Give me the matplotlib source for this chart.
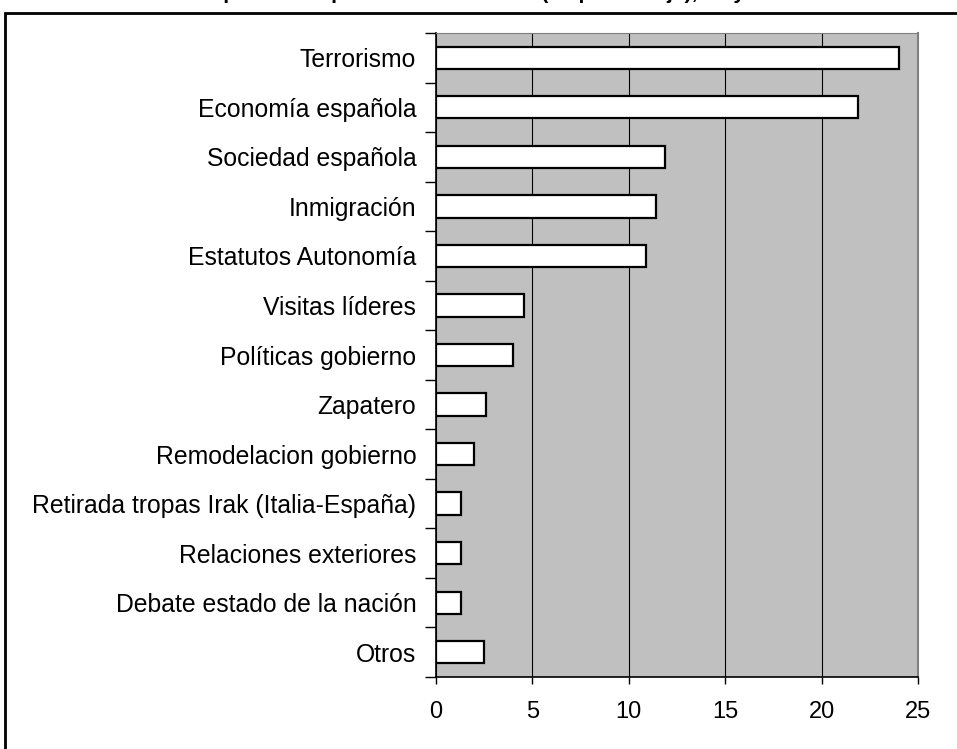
import matplotlib
matplotlib.use("Agg")
import matplotlib.pyplot as plt
from matplotlib.patches import Rectangle

plt.rcParams['font.family'] = ['Liberation Sans', 'DejaVu Sans']

temas = ['Terrorismo', 'Economía española', 'Sociedad española', 'Inmigración',
         'Estatutos Autonomía', 'Visitas líderes', 'Políticas gobierno', 'Zapatero',
         'Remodelacion gobierno', 'Retirada tropas Irak (Italia-España)',
         'Relaciones exteriores', 'Debate estado de la nación', 'Otros']
porcentaje = [24.0, 21.9, 11.9, 11.4, 10.9, 4.6, 4.0, 2.6, 2.0, 1.3, 1.3, 1.3, 2.5]
xticks = [0, 5, 10, 15, 20, 25]

titulo = 'Temas de España en la prensa internacional (en porcentaje), mayo de 2005'

fig = plt.figure(figsize=(9.57, 7.49), dpi=100)
ax = fig.add_axes([0.4553, 0.0961, 0.5040, 0.8598])

pos = list(range(len(temas)))
ax.barh(pos, porcentaje, height=0.45, color='white', edgecolor='black',
        linewidth=1.6, zorder=3)

ax.set_facecolor('#C0C0C0')
ax.set_xlim(0, 25)
ax.set_ylim(len(temas) - 0.5, -0.5)
ax.set_xticks(xticks)
ax.set_xticklabels([str(t) for t in xticks], fontsize=17)
ax.xaxis.grid(True, color='black', linewidth=0.8, zorder=1)
ax.set_axisbelow(True)

# category labels centred, ticks at category boundaries
ax.set_yticks(pos)
ax.set_yticklabels(temas, fontsize=17.8)
ax.tick_params(axis='y', which='major', length=0, pad=14)
ax.set_yticks([p - 0.5 for p in pos] + [len(temas) - 0.5], minor=True)
ax.tick_params(axis='y', which='minor', length=8, width=1, direction='out')
ax.tick_params(axis='x', length=5, width=1, pad=12)

ax.spines['left'].set_color('black')
ax.spines['bottom'].set_color('black')
ax.spines['left'].set_linewidth(1.2)
ax.spines['bottom'].set_linewidth(1.2)
ax.spines['top'].set_color('#808080')
ax.spines['right'].set_color('#808080')
ax.spines['right'].set_linewidth(1.5)

# outer chart border (extends past the right and bottom edges)
fig.patches.append(Rectangle((0.005, -0.05), 1.2, 0.9826 + 0.05, transform=fig.transFigure,
                             fill=False, edgecolor='black', linewidth=2))

# title sits above the visible area, only descenders show (as in the reference)
fig.text(0.49, 1.0015, titulo, ha='center', va='baseline', fontsize=15, fontweight='bold')

fig.savefig('out.png', dpi=100)
